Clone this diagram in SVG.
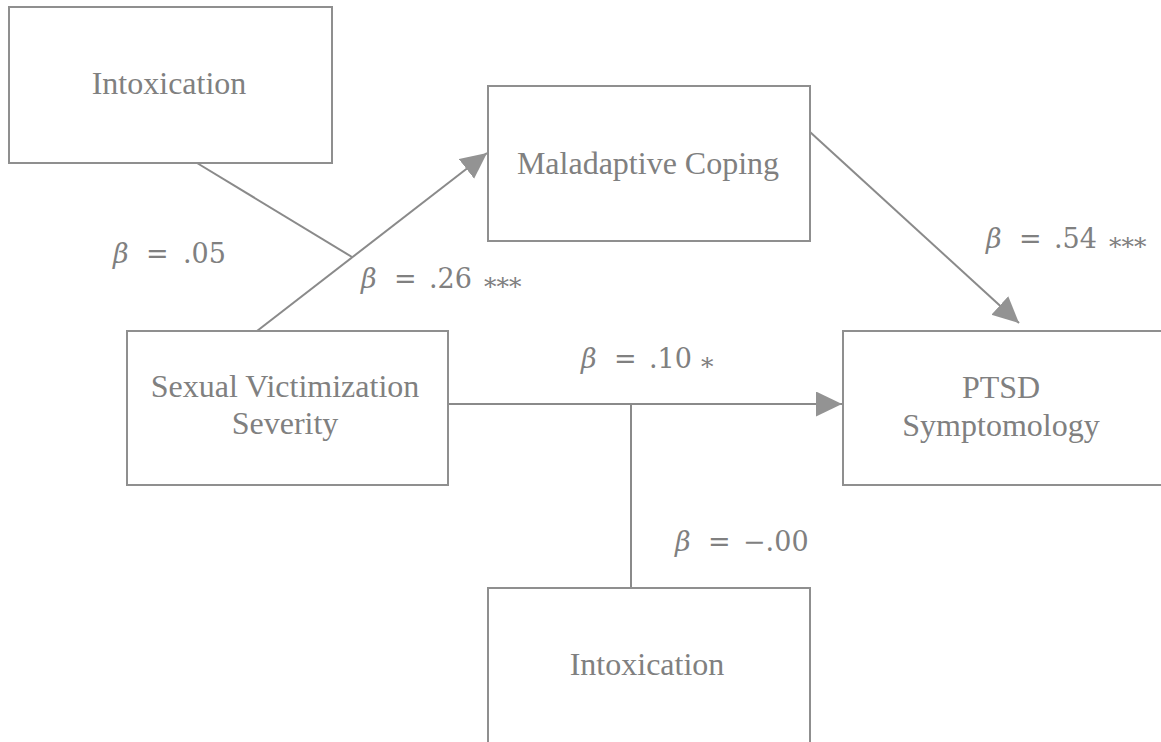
<svg xmlns="http://www.w3.org/2000/svg" width="1161" height="742" viewBox="0 0 1161 742">
<style>
.box{fill:#fff;stroke:#8f8f8f;stroke-width:2}
.lbl{font-family:"Liberation Serif","Times New Roman",serif;font-size:32px;fill:#808080;text-anchor:middle}
.m{font-family:"DejaVu Serif",serif;font-size:27px;fill:#808080}
.b{font-style:italic}
.ast{font-size:25px}
.ln{stroke:#8a8a8a;stroke-width:2;fill:none}
</style>
<defs>
<marker id="ah" markerUnits="userSpaceOnUse" markerWidth="28" markerHeight="26" refX="26" refY="12.5" orient="auto" viewBox="0 0 28 26">
<path d="M0,0 L26,12.5 L0,25 Z" fill="#939393"/>
</marker>
</defs>
<rect width="1161" height="742" fill="#fff"/>
<g id="connectors">
<line class="ln" x1="197" y1="163" x2="352" y2="257"/>
<line class="ln" x1="257" y1="331" x2="487" y2="153" marker-end="url(#ah)"/>
<line class="ln" x1="810" y1="132" x2="1019" y2="323" marker-end="url(#ah)"/>
<line class="ln" x1="448" y1="404" x2="842" y2="404" marker-end="url(#ah)"/>
<line class="ln" x1="631" y1="404" x2="631" y2="588"/>
</g>
<g id="node-intox-top">
<rect class="box" x="9" y="7" width="323" height="156"/>
<text class="lbl" x="169" y="94">Intoxication</text>
</g>
<g id="node-coping">
<rect class="box" x="488" y="86" width="322" height="155"/>
<text class="lbl" x="648" y="174">Maladaptive Coping</text>
</g>
<g id="node-svs">
<rect class="box" x="127" y="331" width="321" height="154"/>
<text class="lbl" x="285" y="397">Sexual Victimization</text>
<text class="lbl" x="285" y="434">Severity</text>
</g>
<g id="node-ptsd">
<rect class="box" x="843" y="331" width="330" height="154"/>
<text class="lbl" x="1001" y="398">PTSD</text>
<text class="lbl" x="1001" y="436">Symptomology</text>
</g>
<g id="node-intox-bottom">
<rect class="box" x="488" y="588" width="322" height="160"/>
<text class="lbl" x="647" y="675">Intoxication</text>
</g>
<g id="labels">
<text class="m" y="263"><tspan class="b" x="113">β</tspan><tspan x="146">=</tspan><tspan x="183">.05</tspan></text>
<text class="m" y="288"><tspan class="b" x="361">β</tspan><tspan x="394">=</tspan><tspan x="429">.26</tspan><tspan class="ast" x="484" y="295">***</tspan></text>
<text class="m" y="248"><tspan class="b" x="986">β</tspan><tspan x="1019">=</tspan><tspan x="1054">.54</tspan><tspan class="ast" x="1109" y="255">***</tspan></text>
<text class="m" y="368"><tspan class="b" x="581">β</tspan><tspan x="614">=</tspan><tspan x="649">.10</tspan><tspan class="ast" x="701" y="375">*</tspan></text>
<text class="m" y="551"><tspan class="b" x="675">β</tspan><tspan x="708">=</tspan><tspan x="743">−.00</tspan></text>
</g>
</svg>
